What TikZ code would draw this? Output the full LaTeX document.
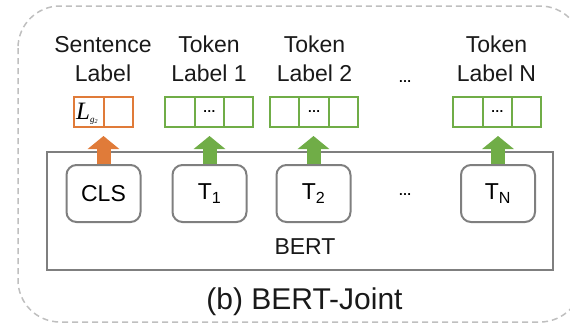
\documentclass[tikz,border=0pt]{standalone}
\usepackage{fontspec}
\setmainfont{Liberation Sans}
\newfontfamily\serifit{Liberation Serif}
\usetikzlibrary{arrows.meta}
\definecolor{borange}{HTML}{E07B39}
\definecolor{bgreen}{HTML}{70AD47}
\definecolor{bgray}{HTML}{7F7F7F}
\definecolor{dgray}{HTML}{BFBFBF}
\begin{document}
\begin{tikzpicture}[x=1pt,y=-1pt,
  lbl/.style={font=\fontsize{23}{29}\selectfont, align=center, text=black!90, inner sep=0pt},
  tokbox/.style={draw=bgray, line width=2pt, rounded corners=10pt, minimum width=74pt, minimum height=57pt, inner sep=0pt, font=\fontsize{23}{27}\selectfont},
  ocell/.style={draw=borange, line width=2pt, minimum width=29.5pt, minimum height=30pt, inner sep=0pt},
  gcell/.style={draw=bgreen, line width=2pt, minimum width=29.3pt, minimum height=30pt, inner sep=0pt, font=\fontsize{13}{13}\selectfont\bfseries},
  uparrow/.style={line width=14pt, -{Triangle[width=31pt,length=13pt]}},
  dotstxt/.style={font=\fontsize{13}{13}\selectfont\bfseries, inner sep=0pt}
]
\useasboundingbox (0,0) rectangle (570,324);
% outer dashed frame
\draw[dgray, line width=1.5pt, dash pattern=on 6pt off 4pt, rounded corners=42pt] (18,6) rectangle (582,322);
% BERT block
\node[draw=bgray, line width=2.5pt, minimum width=506pt, minimum height=118pt, inner sep=0pt] (bert) at (300,211) {};
\node[lbl] (berttxt) at (305,247) {BERT};
% tokens
\node[tokbox] (cls) at (103.5,193.5) {CLS};
\node[tokbox] (t1) at (209.5,193.5) {T\textsubscript{1}};
\node[tokbox] (t2) at (313.5,193.5) {T\textsubscript{2}};
\node[dotstxt] (tdots) at (405,195) {…};
\node[tokbox] (tn) at (498,193.5) {T\textsubscript{N}};
% label cells
\node[ocell] (s1) at (89,112) {};
\node[inner sep=0pt, anchor=base west] (lg) at (76,119) {\serifit\itshape\fontsize{25}{25}\selectfont L\raisebox{-3pt}{\fontsize{9}{9}\selectfont g\raisebox{-1pt}{\fontsize{6}{6}\selectfont 2}}};
\node[ocell] (s2) at (118.5,112) {};
\node[gcell] (a1) at (180,112) {};
\node[gcell] (a2) at (209.3,112) {…};
\node[gcell] (a3) at (238.6,112) {};
\node[gcell] (b1) at (284.7,112) {};
\node[gcell] (b2) at (314,112) {…};
\node[gcell] (b3) at (343.3,112) {};
\node[gcell] (n1) at (468,112) {};
\node[gcell] (n2) at (497.3,112) {…};
\node[gcell] (n3) at (526.6,112) {};
% headings
\node[lbl] (hs) at (103,59) {Sentence\\Label};
\node[lbl] (h1) at (209,59) {Token\\Label 1};
\node[lbl] (h2) at (314.5,59) {Token\\Label 2};
\node[dotstxt] (hdots) at (405,82) {…};
\node[lbl] (hn) at (496.5,59) {Token\\Label N};
% arrows
\draw[uparrow, borange] (cls.north) -- ([yshift=-8pt]s1.south -| cls.north);
\draw[uparrow, bgreen] (t1.north) -- ([yshift=-8pt]a2.south -| t1.north);
\draw[uparrow, bgreen] (t2.north) -- ([yshift=-8pt]b2.south -| t2.north);
\draw[uparrow, bgreen] (tn.north) -- ([yshift=-8pt]n2.south -| tn.north);
% caption
\node[font=\fontsize{30}{30}\selectfont, text=black!90, inner sep=0pt] (cap) at (304.5,302) {(b) BERT-Joint};
\end{tikzpicture}
\end{document}
